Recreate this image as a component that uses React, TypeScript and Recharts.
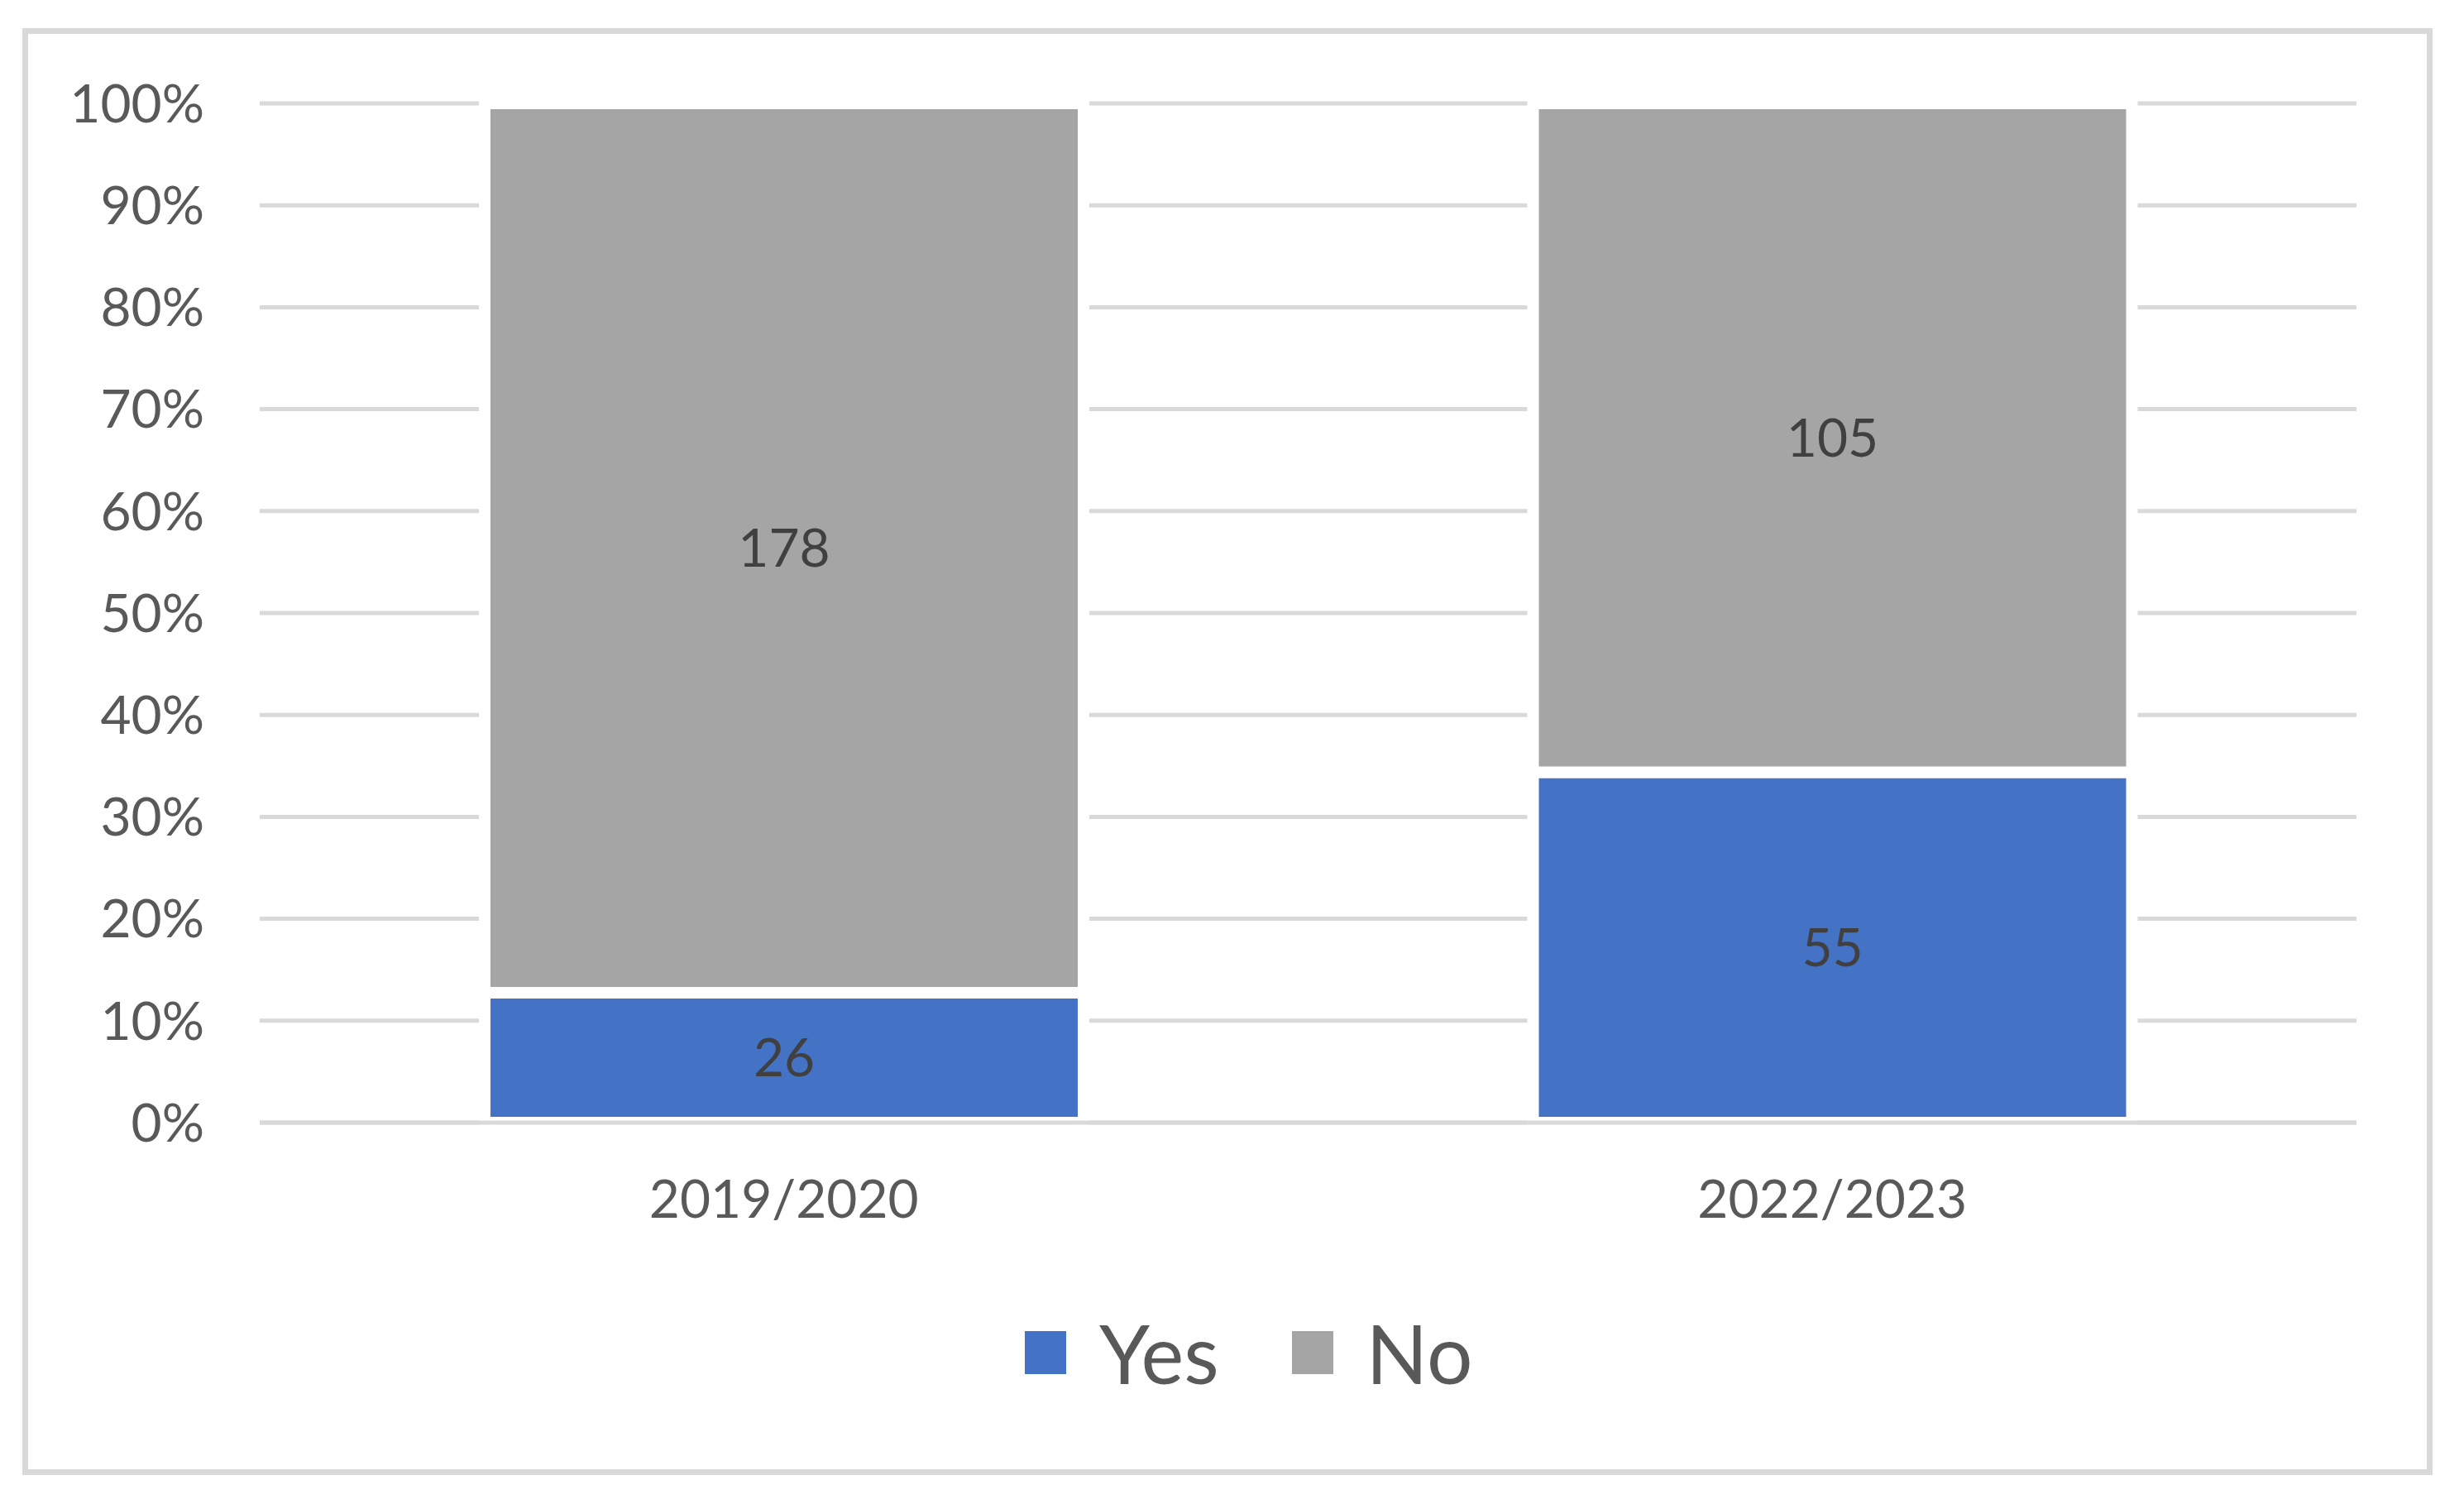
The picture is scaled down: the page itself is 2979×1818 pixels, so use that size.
import React from 'react';
import {
  BarChart,
  Bar,
  XAxis,
  YAxis,
  CartesianGrid,
  Legend,
  LabelList,
  ReferenceLine,
} from 'recharts';

const years = ['2019/2020', '2022/2023'];
const yesCounts = [26, 55];
const noCounts = [178, 105];
const percentTicks = [0, 0.1, 0.2, 0.3, 0.4, 0.5, 0.6, 0.7, 0.8, 0.9, 1];

const data = years.map((year, i) => ({ year, yes: yesCounts[i], no: noCounts[i] }));

const FONT = 'Lato, "Liberation Sans", sans-serif';
const BLUE = '#4472C4';
const GREY = '#A5A5A5';
const TEXT = '#595959';

const renderLegend = () => (
  <div style={{ display: 'flex', alignItems: 'center', fontFamily: FONT, fontSize: 98, color: TEXT }}>
    <span style={{ width: 50, height: 52, background: BLUE, marginRight: 40 }} />
    <span style={{ marginRight: 88 }}>Yes</span>
    <span style={{ width: 50, height: 52, background: GREY, marginRight: 40 }} />
    <span>No</span>
  </div>
);

const App: React.FC = () => {
  return (
    <div style={{ position: 'absolute', left: 0, top: 0, width: 2979, height: 1818, background: '#fff' }}>
      {/* chart frame */}
      <div
        style={{
          position: 'absolute',
          left: 27,
          top: 34,
          width: 2900,
          height: 1735,
          border: '7px solid #D9D9D9',
        }}
      />
      <BarChart
        width={2979}
        height={1818}
        data={data}
        stackOffset="expand"
        barSize={724}
        margin={{ top: 125, right: 130, left: 0, bottom: 361 }}
        style={{ position: 'absolute', left: 0, top: 0 }}
      >
        <CartesianGrid vertical={false} stroke="#D9D9D9" strokeWidth={5} />
        <XAxis
          dataKey="year"
          axisLine={false}
          tickLine={false}
          tickSize={0}
          tickMargin={70}
          height={100}
          tick={{ fontFamily: FONT, fontSize: 64, fill: TEXT }}
        />
        <YAxis
          type="number"
          domain={[0, 1]}
          ticks={percentTicks}
          tickFormatter={(v: number) => `${Math.round(v * 100)}%`}
          axisLine={false}
          tickLine={false}
          tickSize={0}
          tickMargin={67}
          width={314}
          tick={{ fontFamily: FONT, fontSize: 64, fill: TEXT }}
        />
        <Bar dataKey="yes" name="Yes" stackId="a" fill={BLUE} stroke="#fff" strokeWidth={14} isAnimationActive={false}>
          <LabelList dataKey="yes" position="center" fill="#404040" fontSize={64} fontFamily={FONT} />
        </Bar>
        <Bar dataKey="no" name="No" stackId="a" fill={GREY} stroke="#fff" strokeWidth={14} isAnimationActive={false}>
          <LabelList dataKey="no" position="center" fill="#404040" fontSize={64} fontFamily={FONT} />
        </Bar>
        <ReferenceLine y={0} stroke="#D9D9D9" strokeWidth={5} />
        <Legend
          layout="horizontal"
          align="center"
          verticalAlign="middle"
          content={renderLegend}
          wrapperStyle={{ top: 1576, left: 1239, width: 700 }}
        />
      </BarChart>
    </div>
  );
};

export default App;
